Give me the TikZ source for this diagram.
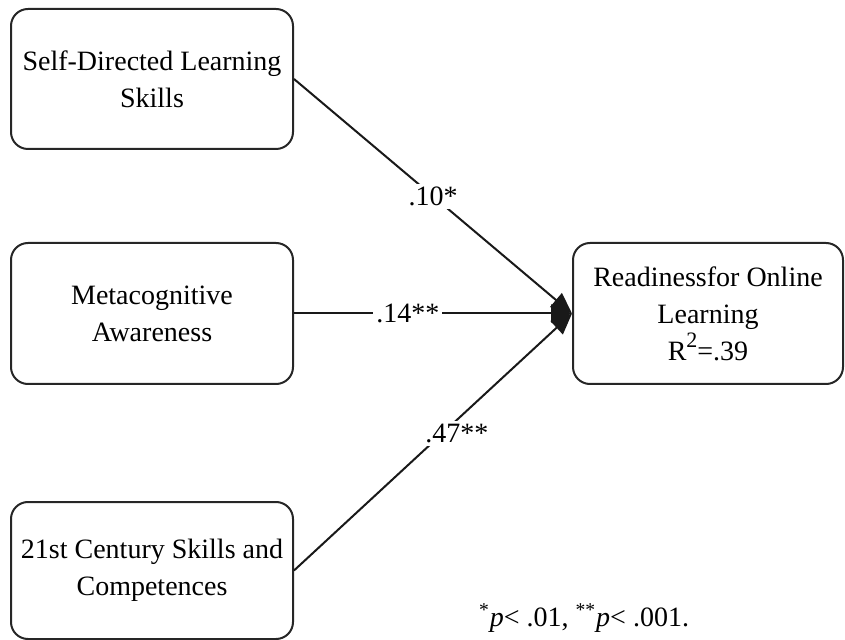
\documentclass[tikz,border=0pt]{standalone}
\usepackage{fontspec}
\setmainfont{Liberation Serif}
\usetikzlibrary{arrows.meta}
\newcommand{\bigsup}[1]{\raisebox{0.45em}{\fontsize{11}{12}\selectfont #1}}
\begin{document}
\begin{tikzpicture}[x=0.5pt,y=-0.5pt,
  box/.style={draw=black!85, line width=1pt, rounded corners=8.5pt, align=center,
    font=\fontsize{14}{18.5}\selectfont, inner sep=0pt},
  lab/.style={fill=white, inner sep=1.5pt, font=\fontsize{14}{16}\selectfont},
  conn/.style={draw=black!90, line width=1pt, -{Triangle[length=10.5pt,width=9pt]}}]
\useasboundingbox (0,0) rectangle (845,640);
\node[box, minimum width=141pt, minimum height=70pt] (sdl) at (152,79) {Self-Directed Learning\\Skills};
\node[box, minimum width=141pt, minimum height=70.5pt] (meta) at (152,313.5) {Metacognitive\\Awareness};
\node[box, minimum width=141pt, minimum height=68.5pt] (cent) at (152,570.5) {21st Century Skills and\\Competences};
\node[box, minimum width=135pt, minimum height=70.5pt] (read) at (708,313.5) {Readinessfor Online\\Learning\\R\bigsup{2}=.39};
\draw[conn] (sdl.east) -- node[lab, pos=0.5] {.10*} (read.west);
\draw[conn] (meta.east) -- node[lab, pos=0.41] {.14**} (read.west);
\draw[conn] (cent.east) -- node[lab, pos=0.55, xshift=5pt, yshift=-2pt] {.47**} (read.west);
\node[font=\fontsize{14}{16}\selectfont, inner sep=0pt] (note) at (584,618) {\textsuperscript{*}\textit{p}< .01, \textsuperscript{**}\textit{p}< .001.};
\end{tikzpicture}
\end{document}
